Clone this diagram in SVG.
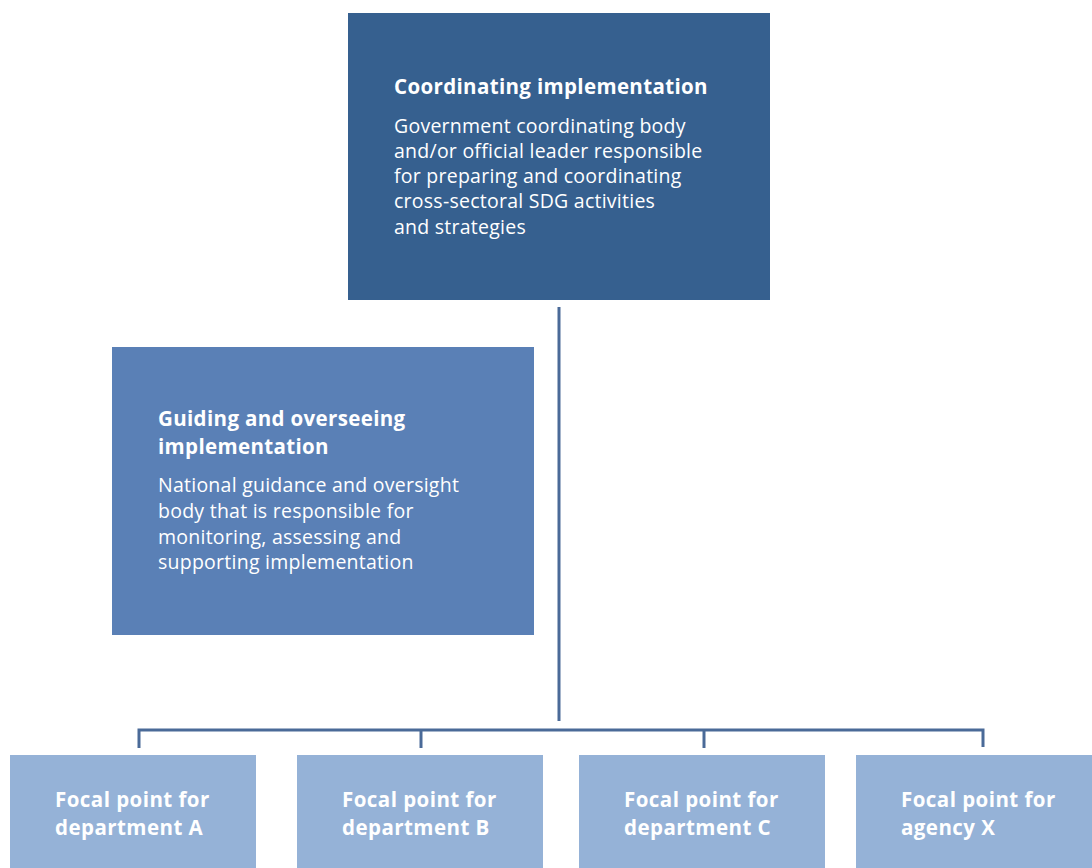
<svg xmlns="http://www.w3.org/2000/svg" width="1092" height="868" viewBox="0 0 1092 868">
  <style>
    .title { font-family: "Open Sans", "Liberation Sans", sans-serif; font-weight: 700; font-size: 20.5px; letter-spacing: 0.35px; fill: #ffffff; }
    .body { font-family: "Open Sans", "Liberation Sans", sans-serif; font-weight: 400; font-size: 19.5px; letter-spacing: 0.25px; fill: #ffffff; }
    .focal { font-family: "Open Sans", "Liberation Sans", sans-serif; font-weight: 700; font-size: 20.5px; letter-spacing: 0.45px; fill: #ffffff; }
    .conn { stroke: #4a6a98; stroke-width: 3; fill: none; }
  </style>
  <rect width="1092" height="868" fill="#ffffff"/>

  <!-- connectors: trunk from the coordinating body down to the focal-point bus -->
  <g id="connectors">
    <line class="conn" x1="559" y1="307" x2="559" y2="721"/>
    <polyline class="conn" points="139,748 139,730 983,730 983,747"/>
    <line class="conn" x1="421" y1="730" x2="421" y2="748"/>
    <line class="conn" x1="704" y1="730" x2="704" y2="748"/>
  </g>

  <g id="coordinating">
    <rect x="348" y="13" width="422" height="287" fill="#36608f"/>
    <text class="title" x="394" y="94">Coordinating implementation</text>
    <text class="body" x="394" y="133">Government coordinating body</text>
    <text class="body" x="394" y="158">and/or official leader responsible</text>
    <text class="body" x="394" y="183">for preparing and coordinating</text>
    <text class="body" x="394" y="208">cross-sectoral SDG activities</text>
    <text class="body" x="394" y="234">and strategies</text>
  </g>

  <g id="guiding">
    <rect x="112" y="347" width="422" height="288" fill="#5a80b6"/>
    <text class="title" x="158" y="426">Guiding and overseeing</text>
    <text class="title" x="158" y="454">implementation</text>
    <text class="body" x="158" y="492">National guidance and oversight</text>
    <text class="body" x="158" y="518">body that is responsible for</text>
    <text class="body" x="158" y="544">monitoring, assessing and</text>
    <text class="body" x="158" y="569">supporting implementation</text>
  </g>

  <g id="focal-a">
    <rect x="10" y="755" width="246" height="113" fill="#95b2d7"/>
    <text class="focal" x="55" y="807">Focal point for</text>
    <text class="focal" x="55" y="835">department A</text>
  </g>
  <g id="focal-b">
    <rect x="297" y="755" width="246" height="113" fill="#95b2d7"/>
    <text class="focal" x="342" y="807">Focal point for</text>
    <text class="focal" x="342" y="835">department B</text>
  </g>
  <g id="focal-c">
    <rect x="579" y="755" width="246" height="113" fill="#95b2d7"/>
    <text class="focal" x="624" y="807">Focal point for</text>
    <text class="focal" x="624" y="835">department C</text>
  </g>
  <g id="focal-x">
    <rect x="856" y="755" width="236" height="113" fill="#95b2d7"/>
    <text class="focal" x="901" y="807">Focal point for</text>
    <text class="focal" x="901" y="835">agency X</text>
  </g>
</svg>
